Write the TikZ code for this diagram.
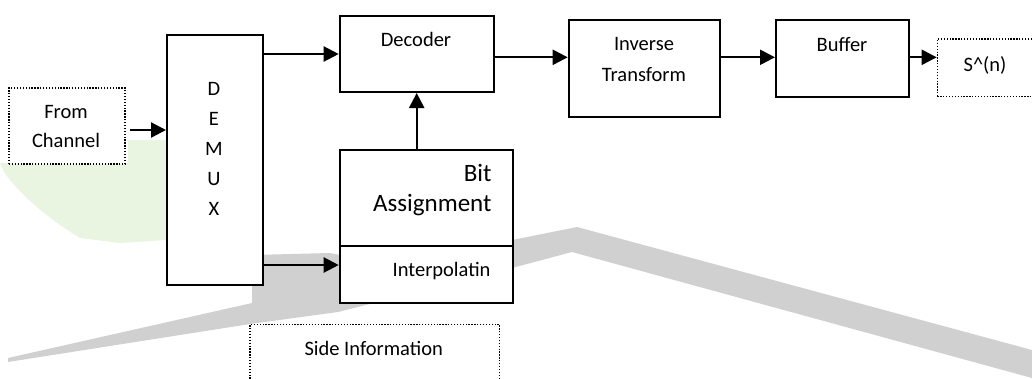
\documentclass[tikz,border=0pt]{standalone}
\usepackage{fontspec}
\setmainfont{Carlito}
\usetikzlibrary{arrows.meta}
\definecolor{wmgray}{RGB}{208,208,208}
\definecolor{wmgreen}{RGB}{233,245,224}

\begin{document}
\begin{tikzpicture}[x=1pt,y=-1pt,
  box/.style={draw, line width=2pt, fill=white, inner sep=0pt, anchor=north west},
  dotbox/.style={draw, line width=1.3pt, dash pattern=on 1.3pt off 1.6pt, fill=white, inner sep=0pt, anchor=north west},
  lbl/.style={font=\fontsize{20.5}{24}\selectfont, inner sep=0pt, anchor=base},
  biglbl/.style={font=\fontsize{25}{30}\selectfont, inner sep=0pt, anchor=base east},
  arr/.style={line width=2.2pt, -{Triangle[length=15pt,width=15pt]}},
]
\useasboundingbox (0,0) rectangle (1032,378);
\clip (0,0) rectangle (1032,378);

% faint background emblem
\fill[wmgreen] (0,163) -- (128,163) -- (128,140) -- (166,140) -- (166,240)
  -- (120,243) -- (80,238) .. controls (50,220) and (20,195) .. (4,172) -- cycle;
\fill[wmgray] (8,358) -- (252,303) -- (252,255) -- (330,253) -- (345,256)
  -- (512,240) -- (577,227) -- (1032,350) -- (1032,378)
  -- (572,252) -- (512,268) -- (338,312) -- (250,324) -- (8,362) -- cycle;

% blocks
\node[dotbox, minimum width=116, minimum height=76] (src) at (8.3,87.3) {};
\node[box, minimum width=96, minimum height=250] (demux) at (166,34) {};
\node[box, minimum width=154, minimum height=76] (dec) at (338.7,15) {};
\node[box, minimum width=151.3, minimum height=96.7] (inv) at (567.7,19) {};
\node[box, minimum width=132.7, minimum height=77] (buf) at (775,19) {};
\node[dotbox, minimum width=120, minimum height=57.7] (out) at (936.7,38.3) {};
\node[box, minimum width=173, minimum height=95.7] (bit) at (338.7,149.3) {};
\node[box, minimum width=173, minimum height=57.3] (interp) at (338.7,245) {};
\node[dotbox, minimum width=249.7, minimum height=80] (side) at (249.3,324) {};

% labels
\node[lbl] (srcA) at (66,118.3) {From};
\node[lbl] (srcB) at (66,147.7) {Channel};
\node[lbl] (dmD) at (214,95) {D};
\node[lbl] (dmE) at (214,125) {E};
\node[lbl] (dmM) at (214,155) {M};
\node[lbl] (dmU) at (214,185) {U};
\node[lbl] (dmX) at (214,215) {X};
\node[lbl] (decT) at (416,46) {Decoder};
\node[lbl] (invA) at (644,50.7) {Inverse};
\node[lbl] (invB) at (644,81) {Transform};
\node[lbl] (bufT) at (842,51.7) {Buffer};
\node[lbl] (outT) at (985,71.7) {S\^{}(n)};
\node[biglbl] (bitA) at (491.7,181.7) {Bit};
\node[biglbl] (bitB) at (491.7,211.7) {Assignment};
\node[lbl, anchor=base east] (intT) at (490.7,276) {Interpolatin};
\node[lbl] (sideT) at (373.7,355) {Side Information};

% signal flow
\coordinate (yin) at (0,130);
\coordinate (ylow) at (0,265);
\coordinate (yhigh) at (0,57.3);
\draw[arr] ([xshift=4pt]src.east |- yin) -- (demux.west |- yin);
\draw[arr] (demux.east |- dec.west) -- (dec.west);
\draw[arr] (demux.east |- ylow) -- (interp.west |- ylow);
\draw[arr] (bit.north -| dec.south) -- (dec.south);
\draw[arr] (dec.east |- yhigh) -- (inv.west |- yhigh);
\draw[arr] (inv.east |- yhigh) -- (buf.west |- yhigh);
\draw[arr] (buf.east |- yhigh) -- (out.west |- yhigh);
\end{tikzpicture}
\end{document}
